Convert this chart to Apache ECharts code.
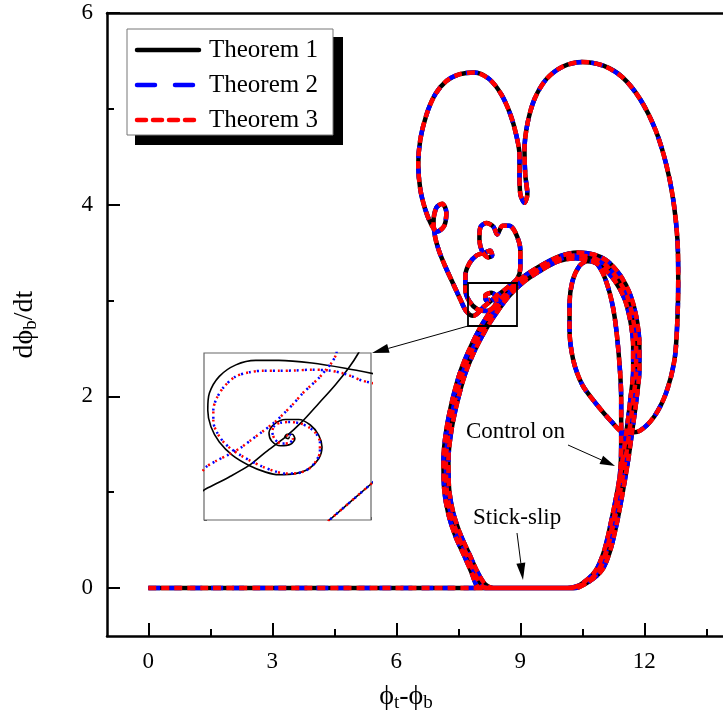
<!DOCTYPE html>
<html>
<head>
<meta charset="utf-8">
<script src="https://cdn.jsdelivr.net/npm/echarts@6/dist/echarts.min.js"></script>
<style>
  html, body { margin: 0; padding: 0; background: #fff; }
  #chart { width: 723px; height: 726px; }
</style>
</head>
<body>
<div id="chart"></div>
<script>
// tick positions
const xMajorTicks = [0, 3, 6, 9, 12]
const xMinorTicks = [1.5, 4.5, 7.5, 10.5, 13.5]
const yMajorTicks = [0, 2, 4, 6]
const yMinorTicks = [1, 3, 5]
const seriesNames = ['Theorem 1', 'Theorem 2', 'Theorem 3']

// trajectory pieces (x = phi_t - phi_b, y = dphi_b/dt)
const startFlat = [[0, 0], [8.0, 0], [10.31, 0]]
const cycleA = [[10.67, 0.07], [10.98, 0.19], [11.18, 0.40], [11.35, 0.71], [11.49, 1.03], [11.61, 1.34], [11.71, 1.65], [11.81, 1.97], [11.88, 2.28], [11.88, 2.54], [11.81, 2.82], [11.66, 3.06], [11.42, 3.26], [11.11, 3.41], [10.77, 3.48], [10.38, 3.50], [9.94, 3.46], [9.48, 3.36], [9.02, 3.23], [8.64, 3.07], [8.32, 2.91], [8.06, 2.74], [7.79, 2.51], [7.55, 2.26], [7.36, 1.97], [7.21, 1.65], [7.14, 1.34], [7.16, 1.02], [7.26, 0.77], [7.43, 0.54], [7.65, 0.33], [7.82, 0.16], [7.94, 0.03], [8.03, 0], [10.14, 0]]
const cycleB = [[10.50, 0.05], [10.82, 0.18], [11.03, 0.39], [11.20, 0.70], [11.35, 1.02], [11.47, 1.33], [11.57, 1.64], [11.66, 1.96], [11.73, 2.27], [11.73, 2.53], [11.66, 2.79], [11.52, 3.02], [11.28, 3.21], [10.98, 3.35], [10.67, 3.42], [10.33, 3.44], [9.92, 3.41], [9.48, 3.31], [9.07, 3.19], [8.71, 3.04], [8.42, 2.87], [8.18, 2.71], [7.91, 2.49], [7.67, 2.24], [7.48, 1.95], [7.33, 1.64], [7.26, 1.33], [7.28, 1.02], [7.38, 0.78], [7.55, 0.56], [7.77, 0.35], [7.96, 0.17], [8.15, 0.04], [8.35, 0], [10.25, 0]]
const cycleC = [[10.60, 0.06], [10.90, 0.18], [11.10, 0.40], [11.27, 0.70], [11.42, 1.02], [11.54, 1.33], [11.64, 1.64], [11.73, 1.96], [11.80, 2.27], [11.80, 2.53], [11.73, 2.80], [11.59, 3.04], [11.35, 3.23], [11.04, 3.38], [10.72, 3.45], [10.36, 3.47], [9.93, 3.43], [9.48, 3.33], [9.05, 3.21], [8.68, 3.05], [8.37, 2.89], [8.12, 2.72], [7.85, 2.50], [7.61, 2.25], [7.42, 1.96], [7.27, 1.64], [7.20, 1.33], [7.22, 1.02], [7.32, 0.77], [7.49, 0.55], [7.71, 0.34], [7.89, 0.16], [8.05, 0.03], [8.20, 0], [10.20, 0]]
const riseToControl = [[10.58, 0.05], [10.88, 0.18], [11.08, 0.39], [11.25, 0.70], [11.37, 1.02], [11.43, 1.30]]
const controlPath = [[11.44, 1.55], [11.44, 1.97], [11.37, 2.49], [11.25, 2.91], [11.06, 3.22], [10.84, 3.39], [10.62, 3.41], [10.43, 3.36], [10.26, 3.20], [10.19, 2.96], [10.19, 2.70], [10.28, 2.38], [10.50, 2.12], [10.84, 1.92], [11.20, 1.74], [11.52, 1.62], [11.88, 1.64], [12.24, 1.79], [12.53, 2.04], [12.73, 2.38], [12.80, 2.80], [12.82, 3.22], [12.80, 3.64], [12.70, 4.05], [12.53, 4.42], [12.27, 4.78], [11.90, 5.10], [11.47, 5.33], [11.01, 5.45], [10.50, 5.49], [10.02, 5.44], [9.63, 5.31], [9.34, 5.10], [9.17, 4.84], [9.10, 4.57], [9.12, 4.31], [9.17, 4.11], [9.10, 4.02], [9.00, 4.11], [8.98, 4.31], [8.98, 4.52], [8.90, 4.73], [8.76, 4.94], [8.54, 5.15], [8.25, 5.31], [7.89, 5.38], [7.52, 5.36], [7.21, 5.29], [6.94, 5.15], [6.73, 4.94], [6.58, 4.68], [6.53, 4.42], [6.58, 4.16], [6.70, 3.95], [6.85, 3.79], [6.99, 3.72], [7.16, 3.78], [7.21, 3.92], [7.11, 4.01], [6.97, 3.97], [6.90, 3.82], [6.94, 3.66], [7.04, 3.51], [7.19, 3.35], [7.38, 3.17], [7.55, 3.01], [7.69, 2.89]]
const spiralTail = [[7.86, 2.84], [8.13, 2.94], [8.44, 3.05], [8.73, 3.15], [8.93, 3.23], [9.00, 3.35], [9.00, 3.53], [8.88, 3.71], [8.73, 3.78], [8.57, 3.78], [8.44, 3.69], [8.35, 3.77], [8.18, 3.81], [8.03, 3.76], [8.01, 3.64], [8.08, 3.51], [8.23, 3.45], [8.32, 3.47], [8.27, 3.52], [8.13, 3.50], [7.94, 3.47], [7.77, 3.39], [7.67, 3.26], [7.67, 3.11], [7.77, 2.99], [7.96, 2.91], [8.20, 2.89], [8.40, 2.96], [8.42, 3.04], [8.30, 3.08], [8.15, 3.05], [8.18, 3.00], [8.27, 3.01]]

// zoomed window (inset)
const insetLoopSolid = [[8.92, 3.134], [8.714, 3.149], [8.476, 3.163], [8.238, 3.170], [8.072, 3.170], [7.929, 3.158], [7.810, 3.127], [7.739, 3.082], [7.727, 3.036], [7.750, 2.991], [7.810, 2.950], [7.905, 2.914], [8.024, 2.887], [8.143, 2.869], [8.238, 2.862], [8.357, 2.865], [8.453, 2.878], [8.524, 2.905], [8.548, 2.937], [8.524, 2.969], [8.464, 2.996], [8.381, 3.011], [8.286, 3.011], [8.203, 2.998], [8.167, 2.975], [8.186, 2.953], [8.250, 2.940], [8.322, 2.944], [8.353, 2.959], [8.334, 2.971], [8.298, 2.971], [8.281, 2.964], [8.305, 2.959], [8.315, 2.965]]
const insetDiagSolid = [[7.69, 2.818], [7.715, 2.824], [7.881, 2.856], [8.024, 2.887], [8.143, 2.923], [8.286, 2.964], [8.405, 3.005], [8.524, 3.054], [8.643, 3.104], [8.738, 3.149], [8.81, 3.19], [8.83, 3.21]]
const insetEdge = [[8.95, 2.853], [8.90, 2.837], [8.595, 2.738], [8.55, 2.723]]
const insetLoopDotted = [[8.92, 3.108], [8.833, 3.116], [8.762, 3.127], [8.691, 3.136], [8.595, 3.143], [8.476, 3.145], [8.357, 3.143], [8.238, 3.142], [8.119, 3.142], [8.024, 3.138], [7.929, 3.127], [7.846, 3.100], [7.791, 3.068], [7.767, 3.036], [7.767, 3.005], [7.791, 2.978], [7.834, 2.953], [7.893, 2.932], [7.965, 2.914], [8.036, 2.899], [8.119, 2.884], [8.203, 2.872], [8.286, 2.865], [8.369, 2.866], [8.453, 2.878], [8.505, 2.899], [8.533, 2.923], [8.533, 2.950], [8.505, 2.973], [8.457, 2.989], [8.393, 3.000], [8.322, 3.004], [8.250, 3.002], [8.205, 2.993], [8.191, 2.978], [8.210, 2.957], [8.257, 2.946], [8.315, 2.948], [8.338, 2.959], [8.322, 2.969], [8.298, 2.967], [8.305, 2.962]]
const insetDiagDotted = [[7.69, 2.872], [7.715, 2.883], [7.786, 2.899], [7.881, 2.917], [7.965, 2.935], [8.036, 2.955], [8.119, 2.978], [8.203, 3.002], [8.274, 3.027], [8.345, 3.054], [8.405, 3.080], [8.464, 3.101], [8.524, 3.122], [8.576, 3.145], [8.619, 3.165], [8.648, 3.185], [8.655, 3.20]]

const FONT = "'Liberation Serif', 'DejaVu Serif', serif"
const trajectory = [].concat(startFlat, cycleA, cycleC, cycleB, riseToControl, controlPath, spiralTail)

const mainStyles = [
  { color: '#000000', width: 4.5, type: 'solid', legendDash: null },
  { color: '#0000ff', width: 4.5, type: [12, 9], legendDash: [18, 20] },
  { color: '#ff0000', width: 4.5, type: [8, 5], legendDash: [9, 7] }
]

function mainSeries(i) {
  return {
    name: seriesNames[i],
    type: 'line',
    data: trajectory,
    xAxisIndex: 0,
    yAxisIndex: 0,
    smooth: 0.3,
    symbol: 'none',
    z: 2 + i,
    lineStyle: { color: mainStyles[i].color, width: mainStyles[i].width, type: mainStyles[i].type }
  }
}

function insetSeries(name, data, style) {
  return {
    name: name,
    type: 'line',
    data: data,
    xAxisIndex: 3,
    yAxisIndex: 2,
    smooth: 0.3,
    symbol: 'none',
    z: 6,
    lineStyle: style
  }
}

function arrow(x1, y1, x2, y2, len, half) {
  const dx = x2 - x1
  const dy = y2 - y1
  const d = Math.sqrt(dx * dx + dy * dy)
  const ux = dx / d
  const uy = dy / d
  const bx = x2 - ux * len
  const by = y2 - uy * len
  return [
    { type: 'line', shape: { x1: x1, y1: y1, x2: bx, y2: by }, style: { stroke: '#000', lineWidth: 1 }, z: 20 },
    { type: 'polygon', shape: { points: [[x2, y2], [bx - uy * half, by + ux * half], [bx + uy * half, by - ux * half]] }, style: { fill: '#000' }, z: 20 }
  ]
}

// legend drawn by hand: box with hard shadow, sample lines, labels
function legendItems() {
  const out = [
    { type: 'rect', shape: { x: 135, y: 37, width: 208, height: 108 }, style: { fill: '#000' }, z: 10 },
    { type: 'rect', shape: { x: 127, y: 29, width: 206, height: 106 }, style: { fill: '#fff', stroke: '#777', lineWidth: 1 }, z: 11 }
  ]
  seriesNames.forEach((name, i) => {
    const y = 50 + i * 35
    const s = mainStyles[i]
    out.push({
      type: 'line', shape: { x1: 137, y1: y, x2: 199, y2: y },
      style: { stroke: s.color, lineWidth: 4.5, lineDash: s.legendDash, lineCap: 'round' }, z: 12
    })
    out.push({
      type: 'text', x: 209, y: y, style: { text: name, fontFamily: FONT, fontSize: 25, fill: '#000', verticalAlign: 'middle' }, z: 12
    })
  })
  return out
}

const chart = echarts.init(document.getElementById('chart'), null, { renderer: 'canvas' })
const dotStyle = { color: '#ff0000', width: 2.5, type: [2, 6] }
const dotStyleBlue = { color: '#0000ff', width: 2.5, type: [2, 6], dashOffset: 3 }
const solidThin = { color: '#000', width: 1.6, type: 'solid' }

chart.setOption({
  animation: false,
  backgroundColor: '#fff',
  grid: [
    { left: 107, top: 13, width: 620, height: 623, outerBoundsMode: 'none', containLabel: false },
    { left: 204, top: 353, width: 167, height: 167, outerBoundsMode: 'none', containLabel: false, show: true, borderColor: '#666', borderWidth: 1.2, backgroundColor: '#fff', z: 5 }
  ],
  xAxis: [
    {
      type: 'value', gridIndex: 0, min: -1, max: 14, position: 'bottom',
      name: '{a|ϕ}{s|t}{a|-ϕ}{s|b}',
      nameLocation: 'middle', nameGap: 44,
      nameTextStyle: {
        fontFamily: FONT, fontSize: 28, color: '#000', padding: [0, 22, 0, 0],
        rich: { a: { fontFamily: FONT, fontSize: 28, color: '#000' }, s: { fontFamily: FONT, fontSize: 19, color: '#000', padding: [14, 0, 0, 0] } }
      },
      axisLine: { show: true, onZero: false, lineStyle: { color: '#000', width: 2.5 } },
      axisTick: { show: true, inside: true, length: 13, customValues: xMajorTicks, lineStyle: { color: '#000', width: 2 } },
      axisLabel: { show: true, customValues: xMajorTicks, margin: 14, fontFamily: FONT, fontSize: 23, color: '#000' },
      splitLine: { show: false }
    },
    {
      type: 'value', gridIndex: 0, min: -1, max: 14, position: 'bottom',
      axisLine: { show: false, onZero: false },
      axisTick: { show: true, inside: true, length: 7, customValues: xMinorTicks, lineStyle: { color: '#000', width: 2 } },
      axisLabel: { show: false },
      splitLine: { show: false }
    },
    {
      type: 'value', gridIndex: 0, min: -1, max: 14, position: 'top',
      axisLine: { show: true, onZero: false, lineStyle: { color: '#000', width: 2.5 } },
      axisTick: { show: false },
      axisLabel: { show: false },
      splitLine: { show: false }
    },
    {
      type: 'value', gridIndex: 1, min: 7.7, max: 8.9, interval: 0.05,
      axisLine: { show: false, onZero: false },
      axisTick: { show: true, inside: true, length: 3, lineStyle: { color: '#555', width: 1 } },
      axisLabel: { show: false },
      splitLine: { show: false }
    }
  ],
  yAxis: [
    {
      type: 'value', gridIndex: 0, min: -0.5, max: 6, position: 'left',
      name: '{a|dϕ}{s|b}{a|/dt}',
      nameLocation: 'middle', nameGap: 66,
      nameTextStyle: {
        fontFamily: FONT, fontSize: 28, color: '#000',
        rich: { a: { fontFamily: FONT, fontSize: 28, color: '#000' }, s: { fontFamily: FONT, fontSize: 19, color: '#000', padding: [14, 0, 0, 0] } }
      },
      axisLine: { show: true, onZero: false, lineStyle: { color: '#000', width: 2.5 } },
      axisTick: { show: true, inside: true, length: 13, customValues: yMajorTicks, lineStyle: { color: '#000', width: 2 } },
      axisLabel: { show: true, customValues: yMajorTicks, margin: 14, fontFamily: FONT, fontSize: 23, color: '#000' },
      splitLine: { show: false }
    },
    {
      type: 'value', gridIndex: 0, min: -0.5, max: 6, position: 'left',
      axisLine: { show: false, onZero: false },
      axisTick: { show: true, inside: true, length: 7, customValues: yMinorTicks, lineStyle: { color: '#000', width: 2 } },
      axisLabel: { show: false },
      splitLine: { show: false }
    },
    {
      type: 'value', gridIndex: 1, min: 2.74, max: 3.19, interval: 0.02,
      axisLine: { show: false, onZero: false },
      axisTick: { show: true, inside: true, length: 3, lineStyle: { color: '#555', width: 1 } },
      axisLabel: { show: false },
      splitLine: { show: false }
    }
  ],
  series: [
    mainSeries(0),
    mainSeries(1),
    mainSeries(2),
    insetSeries('zoom solid', insetLoopSolid, solidThin),
    insetSeries('zoom solid', insetDiagSolid, solidThin),
    insetSeries('zoom solid', insetEdge, solidThin),
    insetSeries('zoom blue', insetLoopDotted, dotStyleBlue),
    insetSeries('zoom blue', insetDiagDotted, dotStyleBlue),
    insetSeries('zoom blue', insetEdge, dotStyleBlue),
    insetSeries('zoom red', insetLoopDotted, dotStyle),
    insetSeries('zoom red', insetDiagDotted, dotStyle),
    insetSeries('zoom red', insetEdge, dotStyle)
  ],
  graphic: legendItems().concat([
    { type: 'rect', shape: { x: 468, y: 283, width: 49, height: 43 }, style: { fill: 'none', stroke: '#000', lineWidth: 1.8 }, z: 20 },
    { type: 'text', x: 466, y: 420, style: { text: 'Control on', fontFamily: FONT, fontSize: 23, fill: '#000' }, z: 20 },
    { type: 'text', x: 473, y: 506, style: { text: 'Stick-slip', fontFamily: FONT, fontSize: 23, fill: '#000' }, z: 20 }
  ], arrow(468, 326, 372, 353, 17, 4.5), arrow(568, 445, 615, 466, 15, 4.5), arrow(517, 533, 523, 580, 17, 4.5))
})
</script>
</body>
</html>
